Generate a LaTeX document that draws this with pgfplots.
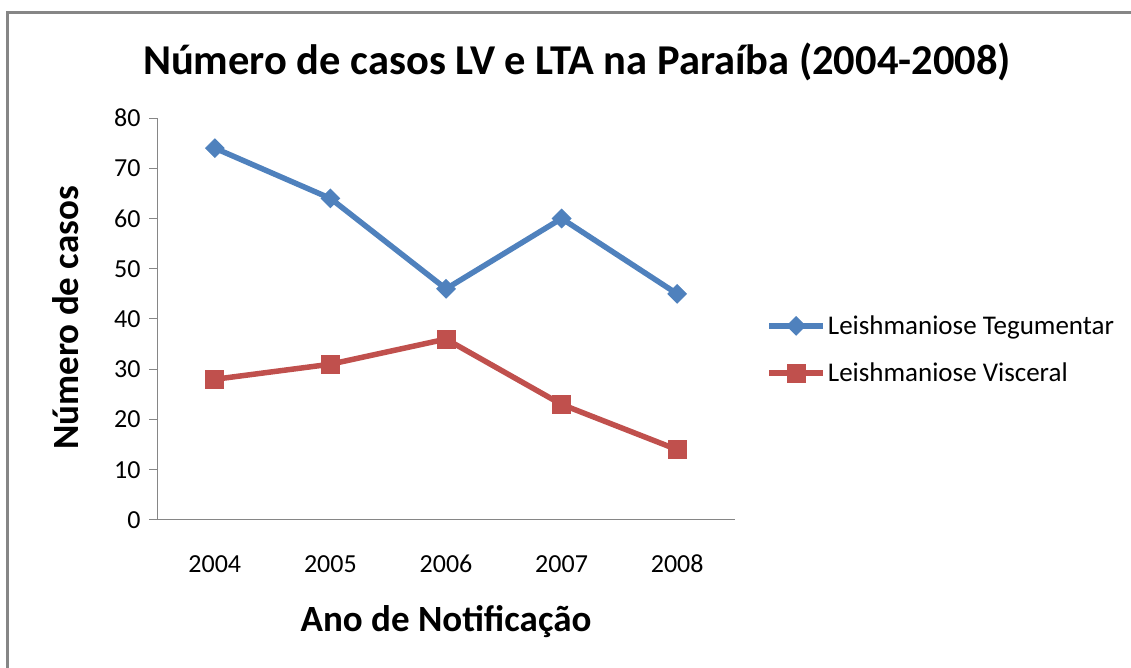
\documentclass[border=0pt]{standalone}
\usepackage{pgfplots}
\pgfplotsset{compat=1.18}
\usepackage{fontspec}
\setmainfont{Carlito}
\definecolor{ablue}{HTML}{4F81BD}
\definecolor{ared}{HTML}{C0504D}
\definecolor{agray}{HTML}{868686}
\begin{document}
\begin{tikzpicture}[x=1pt,y=1pt]
\path[use as bounding box] (0,0) rectangle (1131,668);
\draw[agray,line width=3pt] (7.5,0) -- (7.5,655.5) -- (1131,655.5);
\begin{axis}[
  at={(157pt,148pt)}, anchor=south west,
  scale only axis, width=578pt, height=402pt,
  xmin=-0.5, xmax=4.5, ymin=0, ymax=80,
  axis lines*=left,
  axis line style={agray, line width=1pt},
  x axis line style={-},
  y axis line style={-},
  xtick={0,1,2,3,4}, xticklabels={2004,2005,2006,2007,2008},
  extra x ticks={-0.5,0.5,1.5,2.5,3.5,4.5},
  extra x tick labels={},
  extra x tick style={major tick length=9pt, tick style={agray,line width=1pt}, tick align=outside},
  xtick style={draw=none},
  ytick={0,10,...,80},
  ytick style={agray,line width=1pt},
  tick align=outside, major tick length=8pt,
  tick pos=left,
  /pgf/number format/assume math mode=true,
  ticklabel style={font=\fontsize{26}{30}\selectfont, text=black},
  xticklabel style={anchor=north, text height=17pt, text depth=0pt, yshift=-24pt},
  yticklabel style={xshift=-5pt},
  clip=false,
  legend style={at={(1.054,0.424)}, anchor=west, draw=none, fill=none,
    font=\fontsize{27}{31}\selectfont, row sep=23pt, inner sep=0pt,
    /tikz/every even column/.append style={column sep=0pt}},
  legend cell align=left,
  legend image code/.code={\draw[#1,mark repeat=2,mark phase=2] plot coordinates {(0pt,0pt) (27pt,0pt) (54pt,0pt)};},
]
\addplot[ablue, line width=5.5pt, mark=square*, mark size=6.5pt, mark options={line width=1pt, rotate=45}] coordinates {(0,74) (1,64) (2,46) (3,60) (4,45)};
\addlegendentry{Leishmaniose Tegumentar}
\addplot[ared, line width=5.5pt, mark=square*, mark size=9pt, mark options={line width=1pt}] coordinates {(0,28) (1,31) (2,36) (3,23) (4,14)};
\addlegendentry{Leishmaniose Visceral}
\end{axis}
\node[anchor=base, font=\bfseries\fontsize{42.5}{48}\selectfont] at (577,593) {Número de casos LV e LTA na Paraíba (2004-2008)};
\node[anchor=base, font=\bfseries\fontsize{37}{42}\selectfont] at (446,36) {Ano de Notificação};
\node[rotate=90, anchor=base, font=\bfseries\fontsize{37}{42}\selectfont] at (78,350) {Número de casos};
\end{tikzpicture}
\end{document}
